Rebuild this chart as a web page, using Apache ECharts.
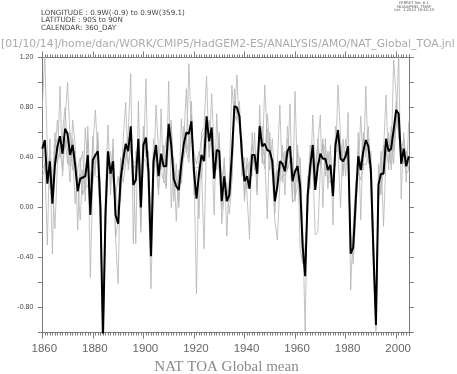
<!DOCTYPE html>
<html><head><meta charset="utf-8">
<script src="https://cdn.jsdelivr.net/npm/echarts@6/dist/echarts.min.js"></script>
<style>html,body{margin:0;padding:0;background:#fff}#c{width:457px;height:374px}</style>
</head><body><div id="c"></div>
<script>
// ---- data ----
const firstYear = 1860;
const lastYear = 2005;
const xTickLabels = [1860, 1880, 1900, 1920, 1940, 1960, 1980, 2000];
const yTickLabels = [-0.8, -0.4, 0.0, 0.4, 0.8, 1.2];

const ensembleMean = [
 0.47, 0.54, 0.19, 0.37, 0.03, 0.34, 0.49, 0.57, 0.43, 0.63,
 0.59, 0.42, 0.50, 0.34, 0.13, 0.23, 0.24, 0.25, 0.42, -0.06,
 0.38, 0.42, 0.45, 0.00, -1.05, -0.05, 0.45, 0.27, 0.37, -0.06,
 -0.13, 0.23, 0.38, 0.51, 0.45, 0.65, 0.18, 0.22, 0.55, 0.00,
 0.50, 0.56, 0.29, -0.39, 0.37, 0.50, 0.25, 0.43, 0.33, 0.33,
 0.67, 0.50, 0.23, 0.17, 0.14, 0.35, 0.51, 0.60, 0.59, 0.69,
 0.29, 0.07, 0.27, 0.42, 0.37, 0.73, 0.53, 0.64, 0.23, 0.46,
 0.45, 0.05, 0.25, 0.05, 0.10, 0.42, 0.81, 0.80, 0.73, 0.42,
 0.21, 0.25, 0.15, 0.42, 0.42, 0.27, 0.65, 0.49, 0.51, 0.46,
 0.45, 0.37, 0.05, 0.17, 0.37, 0.35, 0.29, 0.45, 0.49, 0.21,
 0.29, 0.33, 0.17, -0.31, -0.55, 0.10, 0.33, 0.50, 0.14, 0.33,
 0.43, 0.39, 0.39, 0.30, 0.34, 0.09, 0.50, 0.62, 0.39, 0.37,
 0.41, 0.49, -0.37, -0.32, 0.05, 0.41, 0.30, 0.45, 0.54, 0.49,
 0.30, -0.35, -0.94, 0.18, 0.27, 0.27, 0.55, 0.45, 0.47, 0.62,
 0.78, 0.75, 0.35, 0.47, 0.33, 0.41
];
const member1 = [
 0.80, 1.22, 0.45, 0.15, 0.20, 0.60, 0.35, 0.97, 0.25, 0.55,
 0.35, 0.60, 0.45, 0.03, 0.30, 0.40, 0.10, 0.64, 0.30, 0.20,
 0.50, 0.78, 0.40, 0.20, -1.10, -0.20, 0.30, 0.45, 0.20, 0.10,
 0.25, 0.05, 0.55, 0.84, 0.30, 0.50, 0.35, -0.29, 0.85, 0.15,
 0.35, 1.03, 0.10, -0.65, 0.20, 0.82, 0.45, 0.30, 0.50, 0.15,
 1.01, 0.00, 0.40, -0.11, 0.30, 0.20, 0.65, 0.45, 1.15, 0.55,
 0.45, 0.35, 0.45, 0.30, -0.33, 0.60, 0.70, 0.50, -0.06, 0.75,
 0.35, 0.20, 0.40, -0.23, 0.25, 0.98, 0.70, 1.06, 0.60, 0.55,
 0.05, 0.40, 0.30, 0.25, 0.60, 0.10, 0.82, 0.35, 0.98, 0.55,
 0.30, 0.55, 0.20, 0.35, 0.82, 0.20, 0.45, 0.30, 0.83, 0.05,
 0.93, 0.20, 0.40, -0.15, -0.99, 0.25, 0.15, 0.74, 0.30, 0.50,
 0.74, 0.00, 0.55, 0.15, 0.50, -0.14, 0.65, 0.45, 0.00, 0.55,
 0.25, 0.76, -0.66, -0.15, 0.20, 0.30, 0.73, 0.30, 0.97, 0.35,
 0.45, -0.20, -0.99, 0.35, 0.10, 0.45, 0.90, 0.30, 0.65, 0.45,
 0.65, 1.22, 0.07, 0.60, 0.20, 0.69
];
const member2 = [
 0.30, 0.35, -0.30, 0.55, 0.10, 0.45, 0.70, 0.40, 0.60, 0.80,
 0.45, 0.20, 0.70, 0.50, -0.18, 0.35, 0.45, 0.05, 0.55, -0.56,
 0.25, 0.30, 0.60, -0.15, -1.00, 0.15, 0.66, 0.10, 0.55, -0.25,
 -0.61, 0.40, 0.30, 0.40, 0.60, 1.07, -0.29, 0.45, 0.40, -0.20,
 0.65, 0.40, 0.45, -0.20, 0.55, 0.35, 0.10, 0.79, 0.20, 0.45,
 0.55, 0.70, 0.05, 0.35, 0.00, 0.71, 0.40, 0.55, 0.40, 0.85,
 0.10, 0.30, -0.09, 0.60, 0.65, 1.05, 0.40, 0.91, 0.45, 0.30,
 0.60, -0.13, 0.10, 0.20, -0.05, 0.20, 0.95, 0.70, 0.85, 0.25,
 0.40, 0.10, -0.25, 0.60, 0.30, 0.45, 0.50, 0.65, 0.40, -0.09,
 0.60, 0.25, -0.10, -0.26, 0.20, 0.50, 0.10, 0.65, 0.35, 0.40,
 0.10, 0.50, -0.33, -0.45, -0.30, -0.05, 0.50, 0.35, -0.22, -0.20,
 0.30, 0.55, 0.25, 0.45, 0.20, 0.25, 0.35, 0.98, 0.55, 0.25,
 0.55, 0.35, -0.20, -0.45, -0.10, 0.60, -0.10, 0.60, 0.40, 0.65,
 0.15, -0.50, -0.90, 0.05, 0.45, -0.15, 0.40, 0.60, 0.35, 1.18,
 0.90, 0.55, 0.50, 0.35, 0.45, 0.30
];
const member3 = [
 0.55, 0.30, 0.35, 0.40, -0.37, 0.50, 0.55, 0.45, 0.30, 0.70,
 1.00, 0.55, 0.30, 0.45, 0.20, -0.10, 0.30, 0.15, 0.65, 0.05,
 0.20, 0.35, 0.55, 0.10, -1.05, -0.10, 0.40, 0.35, 0.25, 0.15,
 -0.05, 0.35, 0.20, 0.35, 0.55, 0.55, 0.30, 0.35, 0.50, 0.20,
 0.60, 0.45, 0.35, -0.35, 0.45, 0.40, 0.15, 0.35, 0.40, 0.55,
 0.60, 0.65, 0.30, 0.25, 0.05, 0.30, 0.55, 0.95, 0.45, 0.75,
 0.30, -0.69, 0.40, 0.55, 0.60, 0.70, 0.45, 0.55, 0.30, 0.40,
 0.55, 0.15, 0.35, 0.10, 0.15, 0.25, 0.85, 0.75, 0.80, 0.35,
 0.30, 0.15, 0.35, 0.50, 0.35, 0.40, 0.60, 0.55, 0.35, 0.75,
 0.50, 0.30, 0.15, 0.30, 0.25, 0.45, 0.35, 0.55, 0.40, 0.35,
 0.05, 0.45, 0.35, -0.20, -0.50, 0.20, 0.45, 0.40, 0.25, 0.55,
 0.35, 0.50, 0.30, 0.40, 0.45, 0.15, 0.55, 0.60, 0.50, 0.30,
 0.45, 0.40, -0.30, -0.30, 0.15, 0.45, 0.35, 0.55, 0.45, 0.55,
 0.35, -0.30, -0.95, 0.25, 0.35, 0.50, 0.45, 0.55, 0.30, 0.50,
 0.85, 0.60, 0.45, 0.55, 0.40, 0.35
];
const member4 = [
 0.25, 0.30, 0.25, 0.38, 0.20, -0.17, 0.36, 0.46, 0.57, 0.47,
 0.56, 0.33, 0.55, 0.38, 0.20, 0.27, 0.11, 0.16, 0.18, 0.07,
 0.57, 0.25, 0.25, -0.15, -1.05, -0.05, 0.44, 0.18, 0.48, -0.24,
 -0.11, 0.12, 0.47, 0.45, 0.35, 0.48, 0.36, 0.37, 0.45, -0.15,
 0.40, 0.36, 0.26, -0.36, 0.28, 0.43, 0.30, 0.28, 0.22, 0.17,
 0.52, 0.65, 0.17, 0.19, 0.21, 0.19, 0.44, 0.45, 0.36, 0.61,
 0.31, 0.32, 0.32, 0.23, 0.56, 0.57, 0.57, 0.60, 0.23, 0.39,
 0.30, -0.02, 0.15, 0.13, 0.05, 0.25, 0.74, 0.69, 0.67, 0.53,
 0.09, 0.35, 0.20, 0.33, 0.43, 0.13, 0.68, 0.41, 0.31, 0.63,
 0.40, 0.38, -0.05, 0.29, 0.21, 0.25, 0.26, 0.30, 0.38, 0.04,
 0.08, 0.17, 0.26, -0.44, -0.41, 0.00, 0.22, 0.51, 0.23, 0.47,
 0.33, 0.51, 0.46, 0.20, 0.21, 0.10, 0.45, 0.45, 0.51, 0.38,
 0.39, 0.45, -0.32, -0.38, -0.05, 0.29, 0.22, 0.35, 0.34, 0.41,
 0.25, -0.40, -0.92, 0.07, 0.18, 0.28, 0.45, 0.35, 0.58, 0.35,
 0.72, 0.63, 0.38, 0.38, 0.27, 0.30
];

const headerLines = ['LONGITUDE : 0.9W(-0.9) to 0.9W(359.1)', 'LATITUDE : 90S to 90N', 'CALENDAR: 360_DAY'];
const ferretLines = ['FERRET Ver. 6.1', 'NOAA/PMEL TMAP', 'Oct  1 2014 18:44:19'];
const pathText = '[01/10/14]/home/dan/WORK/CMIP5/HadGEM2-ES/ANALYSIS/AMO/NAT_Global_TOA.jnl';
const titleText = 'NAT TOA Global mean';

// ---- build ----
const years = [];
for (let y = firstYear; y <= lastYear; y++) years.push(y);
const pairs = arr => years.map((y, i) => [y, arr[i]]);

const xMin = 1860, xMax = 2005.2, yMin = -1.0, yMax = 1.2;
const axisColor = '#7a7a7a';

const mctx = document.createElement('canvas').getContext('2d');
function fitSize(s, family, width) { mctx.font = '100px ' + family; return 100 * width / mctx.measureText(s).width; }
const hershey = '"DejaVu Sans"';
function txt(x, y, s, size, family, color, align) {
  return { type: 'text', x: x, y: y, silent: true, z: 10,
    style: { text: s, fontSize: size, fontFamily: family, fill: color, align: align || 'left', verticalAlign: 'middle' } };
}
const hdrSize = fitSize(headerLines[0], hershey, 144);
const ferSize = fitSize(ferretLines[2], hershey, 40);
const pathSize = fitSize(pathText, hershey, 454);

function majorX(pos, labels) {
  return { type: 'value', position: pos, min: xMin, max: xMax, interval: 20,
    axisLine: { show: true, onZero: false, lineStyle: { color: axisColor, width: 1 } },
    axisTick: { show: true, inside: false, length: 6, customValues: xTickLabels, lineStyle: { color: axisColor, width: 1 } },
    axisLabel: { show: labels, customValues: xTickLabels, margin: 10, fontSize: 11.5,
      fontFamily: '"Liberation Sans Narrow", "Liberation Sans"', color: '#666', padding: [0, 0, 0, 4],
      formatter: v => (Math.abs(v % 20) < 1e-6 ? String(v) : '') },
    splitLine: { show: false } };
}
function minorX(pos) {
  return { type: 'value', position: pos, min: xMin, max: xMax, interval: 1,
    axisLine: { show: false, onZero: false },
    axisTick: { show: true, inside: false, length: 3, lineStyle: { color: axisColor, width: 1 } },
    axisLabel: { show: false }, splitLine: { show: false } };
}
function yAx(pos, labels) {
  return { type: 'value', position: pos, min: yMin, max: yMax, interval: 0.2,
    axisLine: { show: true, onZero: false, lineStyle: { color: axisColor, width: 1 } },
    axisTick: { show: true, inside: false, length: 4.5, lineStyle: { color: axisColor, width: 1 } },
    axisLabel: { show: labels, margin: 9, fontSize: 7, fontFamily: '"Liberation Sans"', color: '#444',
      formatter: v => (Math.round(v * 10) % 4 === 0 ? v.toFixed(2) : '') },
    splitLine: { show: false } };
}
function graySeries(arr) {
  return { type: 'line', data: pairs(arr), xAxisIndex: 0, yAxisIndex: 0, showSymbol: false, symbol: 'none',
    clip: true, lineStyle: { color: '#b4b4b4', width: 0.8 }, z: 2, silent: true };
}

const chart = echarts.init(document.getElementById('c'), null, { renderer: 'canvas' });
chart.setOption({
  animation: false,
  backgroundColor: '#fff',
  grid: { left: 42.3, right: 47.7, top: 57.5, bottom: 41.5, containLabel: false, outerBoundsMode: 'none' },
  xAxis: [majorX('bottom', true), minorX('bottom'), majorX('top', false), minorX('top')],
  yAxis: [yAx('left', true), yAx('right', false)],
  series: [
    graySeries(member1), graySeries(member2), graySeries(member3), graySeries(member4),
    { type: 'line', data: pairs(ensembleMean), xAxisIndex: 0, yAxisIndex: 0, showSymbol: false, symbol: 'none',
      clip: true, lineStyle: { color: '#000', width: 2 }, z: 3, silent: true }
  ],
  graphic: [
    txt(41, 13, headerLines[0], hdrSize, hershey, '#444'),
    txt(41, 20.3, headerLines[1], hdrSize, hershey, '#444'),
    txt(41, 27.7, headerLines[2], hdrSize, hershey, '#444'),
    txt(414, 3.5, ferretLines[0], ferSize, hershey, '#555', 'center'),
    txt(414, 6.8, ferretLines[1], ferSize, hershey, '#555', 'center'),
    txt(414, 10.1, ferretLines[2], ferSize, hershey, '#555', 'center'),
    txt(1, 44.5, pathText, pathSize, hershey, '#aaa'),
    txt(226.5, 367.5, titleText, 15, '"Liberation Serif"', '#8a8a8a', 'center')
  ]
});
</script></body></html>
